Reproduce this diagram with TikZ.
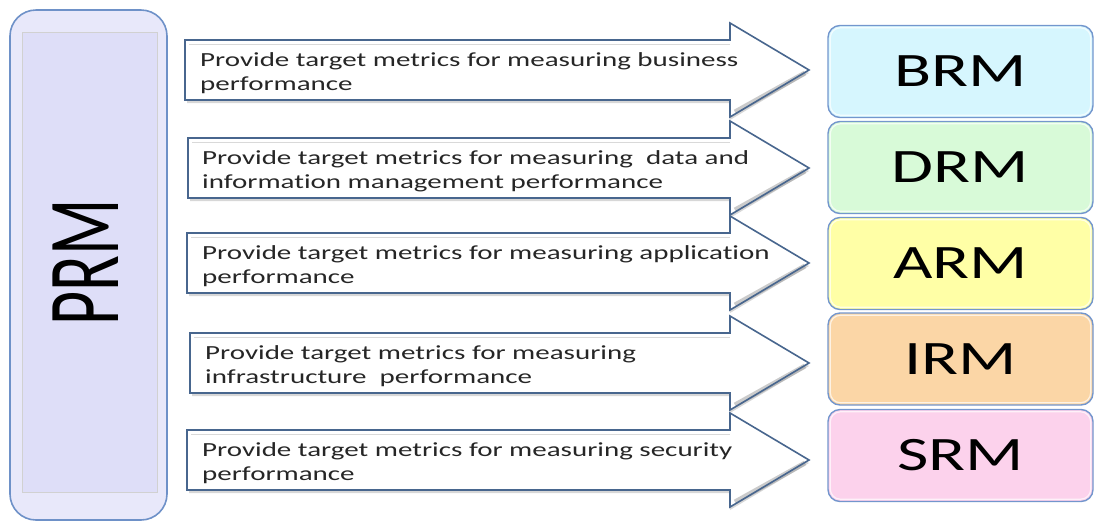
\documentclass[tikz,border=0pt]{standalone}
\usepackage{fontspec}
\setmainfont{Carlito}[Ligatures={NoCommon}]
\definecolor{arrline}{RGB}{72,102,142}
\definecolor{prmfill}{RGB}{232,232,250}
\definecolor{prminner}{RGB}{222,222,248}
\definecolor{prmline}{RGB}{110,145,200}
\definecolor{boxline}{RGB}{115,150,205}
\definecolor{brmfill}{RGB}{214,246,254}
\definecolor{drmfill}{RGB}{216,250,216}
\definecolor{armfill}{RGB}{255,255,166}
\definecolor{irmfill}{RGB}{251,214,166}
\definecolor{srmfill}{RGB}{252,210,236}
\newcommand{\hs}{1.45}
\newcommand{\twoline}[2]{\scalebox{\hs}[1]{\fontsize{20}{24}\selectfont\begin{tabular}[t]{@{}l@{}}#1\\#2\end{tabular}}}
\newcommand{\rmlabel}[1]{\scalebox{1.42}[1]{\fontsize{48}{50}\selectfont #1}}
\tikzset{
  arrowshape/.style={draw=arrline, line width=1.6pt, line join=miter},
  arrowshadow/.style={fill=black!35, opacity=0.45},
  headshade/.style={draw=black!40, line width=5pt, opacity=0.5},
  armtext/.style={anchor=base west, inner sep=0pt, text=black!85},
  rmbox/.style={draw=boxline, line width=1.4pt, rounded corners=12pt, minimum width=265pt, minimum height=92pt, inner sep=0pt},
  rmrim/.style={draw=white, line width=1.2pt, opacity=0.7, rounded corners=10pt},
}
\newcommand{\arrowpath}[2]{(#1,#2-30) -- (730,#2-30) -- (730,#2-47) -- (809,#2) -- (730,#2+47) -- (730,#2+30) -- (#1,#2+30) -- cycle}
\begin{document}
\begin{tikzpicture}[x=1pt,y=-1pt]
\useasboundingbox (0,0) rectangle (1095,523);
% PRM column
\draw[draw=prmline, line width=1.6pt, fill=prmfill, rounded corners=26pt] (10,10) rectangle (167,520);
\draw[draw=black!18, line width=1pt, fill=prminner] (22,32) rectangle (157,492);
\node[rotate=90, inner sep=0pt] (prm) at (86,262) {\scalebox{1}[1.55]{\fontsize{66}{70}\selectfont PRM}};
% arrows
\foreach \l/\c in {185/70, 188/168, 187/263, 190/363, 187/460}{
  \fill[arrowshadow] \arrowpath{\l+2}{\c+3};
  \fill[white] \arrowpath{\l}{\c};
  \draw[headshade] (805,\c+3) -- (735,\c+42);
  \draw[draw=black!15, line width=1pt] (\l+4,\c-26) -- (730,\c-26);
  \draw[arrowshape] \arrowpath{\l}{\c};
}
\node[armtext] (t1) at (200,66) {\twoline{Provide target metrics for measuring business}{performance}};
\node[armtext] (t2) at (202,164) {\twoline{Provide target metrics for measuring\ \ data and}{information management performance}};
\node[armtext] (t3) at (202,259) {\twoline{Provide target metrics for measuring application}{performance}};
\node[armtext] (t4) at (205,359) {\twoline{Provide target metrics for measuring}{infrastructure\ \ performance}};
\node[armtext] (t5) at (202,456) {\twoline{Provide target metrics for measuring security}{performance}};
% reference model boxes
\node[rmbox, fill=brmfill] (brm) at (960.5,71.5) {\rmlabel{BRM}};
\node[rmbox, fill=drmfill] (drm) at (960.5,167.5) {\rmlabel{DRM}};
\node[rmbox, fill=armfill] (arm) at (960.5,263.5) {\rmlabel{ARM}};
\node[rmbox, fill=irmfill] (irm) at (960.5,359) {\rmlabel{IRM}};
\node[rmbox, fill=srmfill] (srm) at (960.5,455.5) {\rmlabel{SRM}};
\foreach \b in {brm,drm,arm,irm,srm}{
  \draw[rmrim] ([shift={(3pt,-3pt)}]\b.north west) rectangle ([shift={(-3pt,3pt)}]\b.south east);
}
\end{tikzpicture}
\end{document}
